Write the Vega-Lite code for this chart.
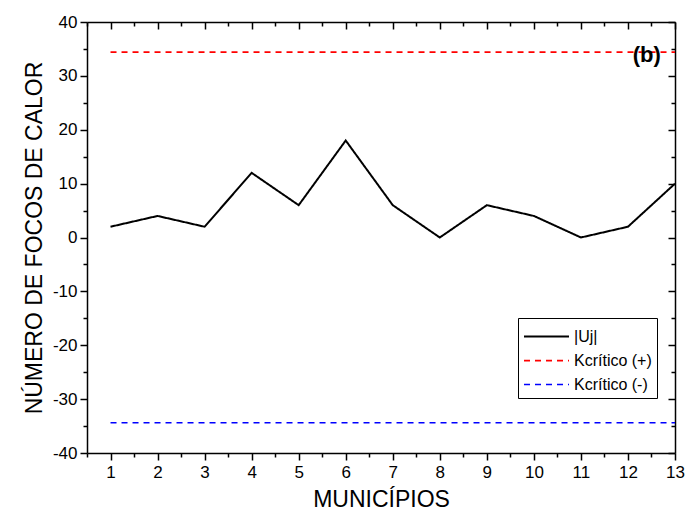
{
  "$schema": "https://vega.github.io/schema/vega-lite/v6.json",
  "width": 588,
  "height": 431,
  "autosize": "none",
  "padding": {"left": 87, "top": 22, "right": 11, "bottom": 64},
  "background": "white",
  "config": {
    "font": "Liberation Sans",
    "view": {"stroke": null},
    "axis": {"grid": false, "domainColor": "black", "domainWidth": 1.5, "tickColor": "black", "tickWidth": 1.5, "labelColor": "black", "titleColor": "black", "labelFont": "Liberation Sans", "titleFont": "Liberation Sans", "labelFontSize": 17, "titleFontSize": 23, "titleFontWeight": "normal"}
  },
  "data": {
    "values": [
      {"x": 1, "y": 2, "series": "|Uj|"},
      {"x": 2, "y": 4, "series": "|Uj|"},
      {"x": 3, "y": 2, "series": "|Uj|"},
      {"x": 4, "y": 12, "series": "|Uj|"},
      {"x": 5, "y": 6, "series": "|Uj|"},
      {"x": 6, "y": 18, "series": "|Uj|"},
      {"x": 7, "y": 6, "series": "|Uj|"},
      {"x": 8, "y": 0, "series": "|Uj|"},
      {"x": 9, "y": 6, "series": "|Uj|"},
      {"x": 10, "y": 4, "series": "|Uj|"},
      {"x": 11, "y": 0, "series": "|Uj|"},
      {"x": 12, "y": 2, "series": "|Uj|"},
      {"x": 13, "y": 10, "series": "|Uj|"},
      {"x": 1, "y": 34.4, "series": "Kcrítico (+)"},
      {"x": 13, "y": 34.4, "series": "Kcrítico (+)"},
      {"x": 1, "y": -34.4, "series": "Kcrítico (-)"},
      {"x": 13, "y": -34.4, "series": "Kcrítico (-)"}
    ]
  },
  "resolve": {"axis": {"x": "independent", "y": "independent"}},
  "layer": [
    {
      "mark": {"type": "line", "clip": true},
      "encoding": {
        "x": {
          "field": "x", "type": "quantitative",
          "scale": {"domain": [0.5, 13], "nice": false, "zero": false},
          "axis": {
            "orient": "bottom",
            "title": "MUNICÍPIOS",
            "titlePadding": 8,
            "values": [0.5, 1, 1.5, 2, 2.5, 3, 3.5, 4, 4.5, 5, 5.5, 6, 6.5, 7, 7.5, 8, 8.5, 9, 9.5, 10, 10.5, 11, 11.5, 12, 12.5, 13],
            "labelExpr": "datum.value % 1 === 0 ? '' + datum.value : ''",
            "tickSize": {"condition": {"test": "datum.value % 1 === 0", "value": 7}, "value": 4},
            "labelPadding": 4,
            "labelFlush": false,
            "labelOverlap": false
          }
        },
        "y": {
          "field": "y", "type": "quantitative",
          "scale": {"domain": [-40, 40], "nice": false},
          "axis": {
            "orient": "left",
            "title": "NÚMERO DE FOCOS DE CALOR",
            "titlePadding": 6,
            "values": [-40, -35, -30, -25, -20, -15, -10, -5, 0, 5, 10, 15, 20, 25, 30, 35, 40],
            "labelExpr": "datum.value % 10 === 0 ? '' + datum.value : ''",
            "tickSize": {"condition": {"test": "datum.value % 10 === 0", "value": 7}, "value": 4},
            "labelPadding": 3,
            "labelOverlap": false,
            "labelFlush": false
          }
        },
        "color": {
          "field": "series", "type": "nominal",
          "scale": {"domain": ["|Uj|", "Kcrítico (+)", "Kcrítico (-)"], "range": ["black", "#ff0000", "#0000ff"]},
          "legend": {
            "title": null,
            "orient": "none",
            "legendX": 431,
            "legendY": 296,
            "strokeColor": "black",
            "fillColor": "white",
            "padding": 5,
            "labelFontSize": 16,
            "labelFont": "Liberation Sans",
            "labelColor": "black",
            "labelOffset": 24,
            "symbolType": "M-1,0H2.6",
            "symbolSize": 625,
            "symbolStrokeWidth": 2,
            "rowPadding": 2
          }
        },
        "strokeDash": {
          "field": "series", "type": "nominal",
          "scale": {"domain": ["|Uj|", "Kcrítico (+)", "Kcrítico (-)"], "range": [[1, 0], [6, 5], [6, 5]]},
          "legend": null
        },
        "strokeWidth": {
          "field": "series", "type": "nominal",
          "scale": {"domain": ["|Uj|", "Kcrítico (+)", "Kcrítico (-)"], "range": [2, 1.5, 1.5]},
          "legend": null
        }
      }
    },
    {
      "data": {"values": [{"label": "(b)"}]},
      "mark": {"type": "text", "fontSize": 22, "fontWeight": "bold", "font": "Liberation Sans", "align": "center", "baseline": "middle"},
      "encoding": {
        "text": {"field": "label"},
        "x": {"datum": 12.4, "type": "quantitative", "axis": null},
        "y": {"datum": 33.9, "type": "quantitative", "axis": null}
      }
    },
    {
      "mark": {"type": "line", "opacity": 0},
      "encoding": {
        "x": {
          "field": "x", "type": "quantitative",
          "axis": {
            "orient": "top", "title": null, "labels": false,
            "values": [0.5, 1, 1.5, 2, 2.5, 3, 3.5, 4, 4.5, 5, 5.5, 6, 6.5, 7, 7.5, 8, 8.5, 9, 9.5, 10, 10.5, 11, 11.5, 12, 12.5, 13],
            "tickSize": {"condition": {"test": "datum.value % 1 === 0", "value": -7}, "value": -4}
          }
        },
        "y": {
          "field": "y", "type": "quantitative",
          "axis": {
            "orient": "right", "title": null, "labels": false,
            "values": [-40, -35, -30, -25, -20, -15, -10, -5, 0, 5, 10, 15, 20, 25, 30, 35, 40],
            "tickSize": {"condition": {"test": "datum.value % 10 === 0", "value": -7}, "value": -4}
          }
        }
      }
    }
  ]
}
